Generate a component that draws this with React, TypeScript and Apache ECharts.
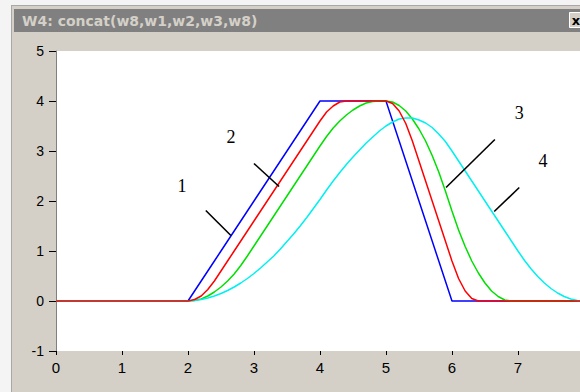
import React, { useEffect, useRef } from "react";
import * as echarts from "echarts";

// Shared sample positions along the time axis
const xs = [
  0, 2.0, 2.1, 2.2, 2.3, 2.4, 2.5, 2.6, 2.7, 2.8, 2.9, 3.0, 3.1, 3.2, 3.3, 3.4, 3.5, 3.6, 3.7, 3.8, 3.9, 4.0,
  4.1, 4.2, 4.3, 4.4, 4.5, 4.6, 4.7, 4.8, 4.9, 5.0, 5.1, 5.2, 5.3, 5.4, 5.5, 5.6, 5.7, 5.8, 5.9, 6.0,
  6.1, 6.2, 6.3, 6.4, 6.5, 6.6, 6.7, 6.8, 6.9, 7.0, 7.1, 7.2, 7.3, 7.4, 7.5, 7.6, 7.7, 7.8, 7.9, 8.0,
];

// Curve 1 (blue): trapezoid
const w1 = [
  0, 0, 0.2, 0.4, 0.6, 0.8, 1.0, 1.2, 1.4, 1.6, 1.8, 2.0, 2.2, 2.4, 2.6, 2.8, 3.0, 3.2, 3.4, 3.6, 3.8, 4.0,
  4, 4, 4, 4, 4, 4, 4, 4, 4, 4, 3.6, 3.2, 2.8, 2.4, 2.0, 1.6, 1.2, 0.8, 0.4, 0,
  0, 0, 0, 0, 0, 0, 0, 0, 0, 0, 0, 0, 0, 0, 0, 0, 0, 0, 0, 0,
];

// Curve 2 (red)
const w2 = [
  0, 0, 0.03, 0.1, 0.23, 0.4, 0.6, 0.8, 1.0, 1.2, 1.4, 1.6, 1.8, 2.0, 2.2, 2.4, 2.6, 2.8, 3.0, 3.2, 3.4, 3.6,
  3.78, 3.9, 3.98, 4, 4, 4, 4, 4, 4, 4, 3.95, 3.8, 3.55, 3.2, 2.8, 2.4, 2.0, 1.6, 1.2, 0.8,
  0.45, 0.2, 0.05, 0, 0, 0, 0, 0, 0, 0, 0, 0, 0, 0, 0, 0, 0, 0, 0, 0,
];

// Curve 3 (green)
const w3 = [
  0, 0, 0.01, 0.04, 0.1, 0.18, 0.28, 0.4, 0.54, 0.71, 0.9, 1.1, 1.3, 1.5, 1.7, 1.9, 2.1, 2.3, 2.5, 2.7, 2.9, 3.1,
  3.29, 3.46, 3.6, 3.72, 3.82, 3.9, 3.96, 3.99, 4.0, 4.0, 3.98, 3.91, 3.8, 3.64, 3.44, 3.2, 2.91, 2.58, 2.2, 1.8,
  1.42, 1.09, 0.8, 0.56, 0.36, 0.2, 0.09, 0.02, 0, 0, 0, 0, 0, 0, 0, 0, 0, 0, 0, 0,
];

// Curve 4 (cyan)
const w4 = [
  0, 0, 0.01, 0.03, 0.06, 0.1, 0.15, 0.21, 0.28, 0.36, 0.45, 0.55, 0.66, 0.78, 0.9, 1.04, 1.19, 1.34, 1.5, 1.67, 1.85, 2.03,
  2.22, 2.4, 2.57, 2.73, 2.88, 3.02, 3.16, 3.28, 3.4, 3.5, 3.58, 3.64, 3.66, 3.66, 3.62, 3.56, 3.47, 3.34, 3.19, 3.0,
  2.8, 2.6, 2.4, 2.2, 2.0, 1.8, 1.6, 1.4, 1.2, 1.0, 0.81, 0.64, 0.49, 0.36, 0.25, 0.16, 0.09, 0.04, 0.01, 0,
];

const yTicks = [-1, 0, 1, 2, 3, 4, 5];

// Callout numbers and their leader lines, in axis units
const calloutNames = ["1", "2", "3", "4"];
const calloutAt = [
  [1.91, 2.3],
  [2.65, 3.28],
  [7.02, 3.76],
  [7.38, 2.8],
];
const leaders = [
  [[2.27, 1.81], [2.65, 1.31]],
  [[3.0, 2.75], [3.38, 2.29]],
  [[6.65, 3.23], [5.91, 2.27]],
  [[7.02, 2.27], [6.64, 1.79]],
];

const title = "W4: concat(w8,w1,w2,w3,w8)";

const pair = (ys: number[]) => xs.map((x, i) => [x, ys[i]]);

export default function App() {
  const ref = useRef<HTMLDivElement>(null);

  useEffect(() => {
    if (!ref.current) return;
    const chart = echarts.init(ref.current, null, { renderer: "svg" });

    const curve = (name: string, ys: number[], color: string) => ({
      name,
      type: "line",
      data: pair(ys),
      symbol: "none",
      lineStyle: { color, width: 1.5 },
      z: 3,
    });

    const leaderSeries = leaders.map((seg, i) => ({
      name: "leader" + i,
      type: "line",
      data: seg,
      symbol: "none",
      lineStyle: { color: "#000", width: 1.6 },
      z: 4,
    }));

    // Window frame: outer border, title bar and close button
    const frame = [
      { type: "rect", shape: { x: 0, y: 0, width: 11, height: 392 }, style: { fill: "#f4f4f4" }, silent: true },
      { type: "rect", shape: { x: 0, y: 0, width: 580, height: 5 }, style: { fill: "#f4f4f4" }, silent: true },
      { type: "line", shape: { x1: 11.5, y1: 5, x2: 11.5, y2: 392 }, style: { stroke: "#a8a8a8", lineWidth: 1 }, silent: true },
      { type: "line", shape: { x1: 11, y1: 5.5, x2: 580, y2: 5.5 }, style: { stroke: "#a8a8a8", lineWidth: 1 }, silent: true },
      { type: "rect", shape: { x: 14, y: 9, width: 570, height: 23 }, style: { fill: "#808080" }, silent: true },
      {
        type: "text",
        x: 22,
        y: 21,
        style: {
          text: title,
          fill: "#d4d0c8",
          font: "bold 14px 'DejaVu Sans'",
          verticalAlign: "middle",
        },
        silent: true,
      },
      {
        type: "rect",
        shape: { x: 569.5, y: 12.5, width: 16, height: 15 },
        style: { fill: "#d4d0c8", stroke: "#ffffff", lineWidth: 1 },
        silent: true,
      },
      {
        type: "text",
        x: 576,
        y: 20.5,
        style: {
          text: "x",
          fill: "#000",
          font: "bold 13px 'DejaVu Sans'",
          align: "center",
          verticalAlign: "middle",
        },
        silent: true,
      },
    ];

    chart.setOption({
      animation: false,
      backgroundColor: "#d4d0c8",
      grid: {
        left: 56,
        right: 0,
        top: 51,
        bottom: 41,
        show: true,
        backgroundColor: "#ffffff",
        borderWidth: 0,
      },
      xAxis: {
        type: "value",
        min: 0,
        max: 7.94,
        interval: 1,
        axisLine: { show: false, onZero: false },
        axisTick: { show: true, length: 4, lineStyle: { color: "#000" } },
        axisLabel: {
          fontSize: 15,
          color: "#000",
          fontFamily: "Liberation Sans",
          margin: 9,
          showMaxLabel: false,
          formatter: (v: number) => (Number.isInteger(v) ? String(v) : ""),
        },
        splitLine: { show: false },
      },
      yAxis: {
        type: "value",
        min: yTicks[0],
        max: yTicks[yTicks.length - 1],
        interval: 1,
        axisLine: { show: true, onZero: false, lineStyle: { color: "#808080", width: 1 } },
        axisTick: { show: true, length: 7, lineStyle: { color: "#000" } },
        axisLabel: {
          fontSize: 14,
          color: "#000",
          fontFamily: "Liberation Sans",
          margin: 12,
        },
        splitLine: { show: false },
      },
      series: [
        curve("w1", w1, "#0000ff"),
        curve("w3", w3, "#00e000"),
        curve("w4", w4, "#00f0f0"),
        curve("w2", w2, "#ff0000"),
        ...leaderSeries,
      ],
      graphic: frame,
    });

    // Callout numbers, placed through the grid's coordinate system
    const callouts = calloutAt.map((p, i) => {
      const [px, py] = chart.convertToPixel({ gridIndex: 0 }, p) as number[];
      return {
        type: "text",
        x: px,
        y: py,
        z: 10,
        style: {
          text: calloutNames[i],
          fill: "#000",
          font: "18px 'Liberation Serif'",
          align: "center",
          verticalAlign: "middle",
        },
        silent: true,
      };
    });
    chart.setOption({ graphic: [...frame, ...callouts] });

    return () => chart.dispose();
  }, []);

  return (
    <div
      ref={ref}
      style={{ position: "absolute", left: 0, top: 0, width: 580, height: 392 }}
    />
  );
}
